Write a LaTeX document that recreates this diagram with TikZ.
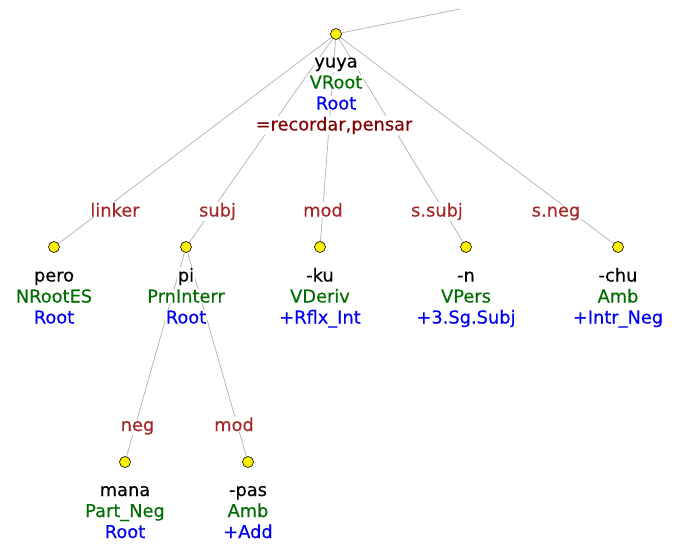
\documentclass[tikz,border=0pt]{standalone}
\usepackage{fontspec}
\setmainfont{DejaVu Sans}
\newfontfamily\treefont[FakeBold=0.3]{DejaVu Sans}
\usetikzlibrary{backgrounds}
\definecolor{wordc}{RGB}{0,0,0}
\definecolor{catc}{RGB}{0,110,0}
\definecolor{tagc}{RGB}{0,0,240}
\definecolor{glossc}{RGB}{130,0,0}
\definecolor{labc}{RGB}{165,40,40}
\definecolor{edgec}{RGB}{180,180,180}
\begin{document}
\begin{tikzpicture}[x=1pt,y=-1pt,
  tok/.style={circle, draw=black, fill=yellow, minimum size=11pt, inner sep=0pt, line width=0.6pt},
  dep/.style={draw=edgec, line width=0.75pt},
  txt/.style={fill=white, inner sep=0.6pt, anchor=base, font=\treefont\fontsize{17.8}{21}\selectfont},
  lab/.style={txt, text=labc},
  wrd/.style={txt, text=wordc},
  cat/.style={txt, text=catc},
  tag/.style={txt, text=tagc},
  gls/.style={txt, text=glossc}]
\useasboundingbox (0,0) rectangle (676,551);
% tokens
\node[tok] (r) at (336,34) {};
\node[tok] (pero) at (54,247) {};
\node[tok] (pi) at (186,247) {};
\node[tok] (ku) at (320,247) {};
\node[tok] (n) at (466,247) {};
\node[tok] (chu) at (618,247) {};
\node[tok] (mana) at (125,462) {};
\node[tok] (pas) at (248,462) {};
\coordinate (top) at (460,9);
% edges
\begin{scope}[on background layer]
\draw[dep] (r) -- (top);
\draw[dep] (r) -- (pero);
\draw[dep] (r) -- (pi);
\draw[dep] (r) -- (ku);
\draw[dep] (r) -- (n);
\draw[dep] (r) -- (chu);
\draw[dep] (pi) -- (mana);
\draw[dep] (pi) -- (pas);
\end{scope}
% edge labels
\node[lab] (l-pero) at (115,216.5) {linker};
\node[lab] (l-pi) at (217.5,216.5) {subj};
\node[lab] (l-ku) at (323,216.5) {mod};
\node[lab] (l-n) at (437,216.5) {s.subj};
\node[lab] (l-chu) at (556,216.5) {s.neg};
\node[lab] (l-mana) at (137.5,431) {neg};
\node[lab] (l-pas) at (234,431) {mod};
% token texts
\node[wrd] (r-w) at (336,67.5) {yuya};
\node[cat] (r-c) at (336,88.5) {VRoot};
\node[tag] (r-t) at (336,109.5) {Root};
\node[gls] (r-g) at (334,130.5) {=recordar,pensar};
\node[wrd] (pero-w) at (54,281.5) {pero};
\node[cat] (pero-c) at (54,302.5) {NRootES};
\node[tag] (pero-t) at (54,323.5) {Root};
\node[wrd] (pi-w) at (186,281.5) {pi};
\node[cat] (pi-c) at (186,302.5) {PrnInterr};
\node[tag] (pi-t) at (186,323.5) {Root};
\node[wrd] (ku-w) at (320,281.5) {-ku};
\node[cat] (ku-c) at (320,302.5) {VDeriv};
\node[tag] (ku-t) at (320,323.5) {+Rflx\_Int};
\node[wrd] (n-w) at (466,281.5) {-n};
\node[cat] (n-c) at (466,302.5) {VPers};
\node[tag] (n-t) at (466,323.5) {+3.Sg.Subj};
\node[wrd] (chu-w) at (618,281.5) {-chu};
\node[cat] (chu-c) at (618,302.5) {Amb};
\node[tag] (chu-t) at (618,323.5) {+Intr\_Neg};
\node[wrd] (mana-w) at (125,496) {mana};
\node[cat] (mana-c) at (125,517) {Part\_Neg};
\node[tag] (mana-t) at (125,538) {Root};
\node[wrd] (pas-w) at (248,496) {-pas};
\node[cat] (pas-c) at (248,517) {Amb};
\node[tag] (pas-t) at (248,538) {+Add};
\end{tikzpicture}
\end{document}
